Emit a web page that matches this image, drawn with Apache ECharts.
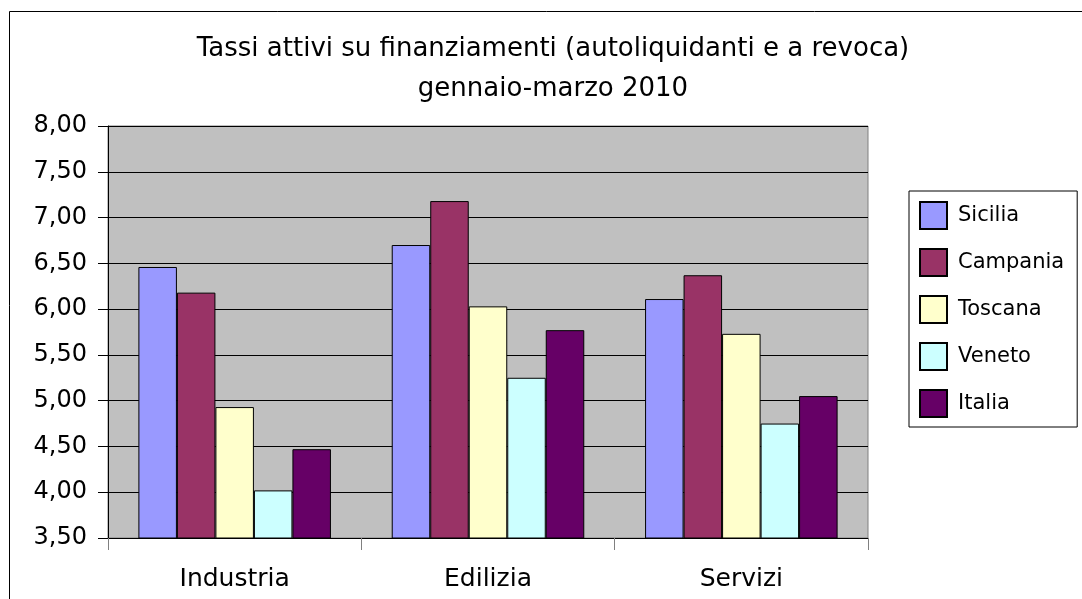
<!DOCTYPE html>
<html lang="it">
<head>
<meta charset="UTF-8">
<title>Tassi attivi su finanziamenti</title>
<style>
    html, body { margin: 0; padding: 0; background: #fff; }
    #main { width: 1082px; height: 599px; }
</style>
</head>
<body>
<div id="main"></div>
<script src="https://cdn.jsdelivr.net/npm/echarts@6/dist/echarts.min.js"></script>
<script>
    // dati
    var settori = ['Industria', 'Edilizia', 'Servizi'];
    var regioni = ['Sicilia', 'Campania', 'Toscana', 'Veneto', 'Italia'];
    var sicilia = [6.46, 6.70, 6.11];
    var campania = [6.18, 7.18, 6.37];
    var toscana = [4.93, 6.03, 5.73];
    var veneto = [4.02, 5.25, 4.75];
    var italia = [4.47, 5.77, 5.05];
    var colori = ['#9999ff', '#993366', '#ffffcc', '#ccffff', '#660066'];

    var valori = [sicilia, campania, toscana, veneto, italia];
    var font = 'DejaVu Sans';

    var serie = [];
    for (let i = 0; i < regioni.length; i++) {
        serie.push({
            name: regioni[i],
            type: 'bar',
            data: valori[i],
            barGap: '0%',
            barCategoryGap: '24%',
            itemStyle: { color: colori[i], borderColor: '#000', borderWidth: 1 }
        });
    }

    var myChart = echarts.init(document.getElementById('main'));
    var option = {
        animation: false,
        textStyle: { fontFamily: font },
        graphic: [{
            type: 'rect',
            shape: { x: 9.5, y: 11.5, width: 1090, height: 600 },
            style: { fill: 'none', stroke: '#000', lineWidth: 1 }
        }],
        title: {
            text: 'Tassi attivi su finanziamenti (autoliquidanti e a revoca)\ngennaio-marzo 2010',
            left: 548,
            textAlign: 'center',
            top: 24,
            textStyle: { fontFamily: font, fontSize: 26, fontWeight: 'normal', color: '#000', lineHeight: 40 }
        },
        legend: {
            orient: 'vertical',
            left: 909,
            top: 191,
            icon: 'rect',
            itemWidth: 27,
            itemHeight: 27,
            itemGap: 18,
            padding: [10, 13, 9, 10],
            borderColor: '#000',
            borderWidth: 1,
            textStyle: { fontFamily: font, fontSize: 21, color: '#000', padding: [0, 0, 0, 6] },
            data: regioni
        },
        grid: {
            left: 108, top: 126, width: 760, height: 412,
            show: true, backgroundColor: '#c0c0c0', borderColor: '#808080', borderWidth: 1
        },
        xAxis: {
            type: 'category',
            data: settori,
            axisLine: { lineStyle: { color: '#000' } },
            axisTick: { show: true, length: 12, lineStyle: { color: '#808080' } },
            axisLabel: { fontSize: 25, color: '#000', margin: 29, fontFamily: font }
        },
        yAxis: {
            type: 'value',
            min: 3.5, max: 8, interval: 0.5,
            axisLine: { show: true, lineStyle: { color: '#000' } },
            axisTick: { show: true, length: 10, lineStyle: { color: '#000' } },
            splitLine: { lineStyle: { color: '#000', width: 1 } },
            axisLabel: {
                fontSize: 24, color: '#000', margin: 21, fontFamily: font,
                formatter: function (v) { return v.toFixed(2).replace('.', ','); }
            }
        },
        series: serie
    };
    myChart.setOption(option);
</script>
</body>
</html>
